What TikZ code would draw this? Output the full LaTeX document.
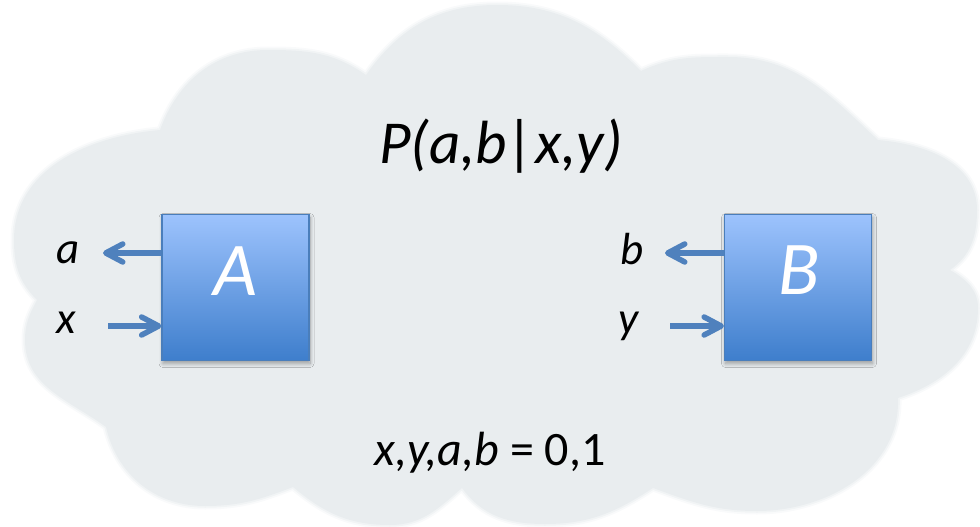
\documentclass[tikz,border=0pt]{standalone}
\usepackage{fontspec}
\setmainfont{Carlito}
\usetikzlibrary{arrows.meta,shadows.blur}

\definecolor{cloudgray}{HTML}{E9EDEF}
\definecolor{sigblue}{HTML}{4F81BD}
\definecolor{boxtop}{HTML}{9DC3FD}
\definecolor{boxbottom}{HTML}{3E7ECC}
\definecolor{boxedge}{HTML}{4A7EBB}

\begin{document}
\begin{tikzpicture}[x=1pt,y=1pt,
  party/.style={draw=boxedge, line width=1.2pt,
    top color=boxtop, bottom color=boxbottom,
    minimum width=147pt, minimum height=146pt, inner sep=0pt,
    blur shadow={shadow xshift=1pt, shadow yshift=-3pt,
      shadow opacity=35, shadow blur radius=4pt, shadow blur steps=8}},
  partname/.style={text=white, font=\fontsize{76}{76}\selectfont\itshape,
    inner sep=0pt, anchor=base},
  varlabel/.style={font=\fontsize{45}{45}\selectfont\itshape,
    inner sep=0pt, anchor=base},
  sigline/.style={draw=sigblue, line width=5.5pt,
    -{Straight Barb[length=17pt,width=18pt,round]}},
]
\useasboundingbox (0,0) rectangle (980,-527);

% the cloud, with a slightly softened rim
\path[fill=cloudgray, line join=round,
  preaction={draw=cloudgray, line width=7pt, opacity=.25, line join=round},
  preaction={draw=cloudgray, line width=3.5pt, opacity=.5, line join=round}]
  (160,-130) to[out=70,in=180] (268,-50) to[out=0,in=145] (366,-75)
  to[out=55,in=180] (497,-5) to[out=0,in=135] (641,-71)
  to[out=25,in=180] (728,-57) to[out=0,in=137] (878,-140)
  to[out=-5,in=90] (977,-210) to[out=-90,in=35] (950,-270)
  to[out=-30,in=90] (978,-308) to[out=-90,in=18] (898,-398)
  to[out=-88,in=0] (757,-511) to[out=180,in=-20] (653,-488)
  to[out=213,in=0] (545,-524) to[out=180,in=-54] (462,-488)
  to[out=221,in=0] (390,-525) to[out=180,in=-40] (293,-487)
  to[out=201,in=0] (205,-506) to[out=180,in=-77] (106,-427)
  to[out=144,in=-90] (25,-340) to[out=90,in=-118] (37,-300)
  to[out=135,in=-90] (14,-240) to[out=90,in=185] (160,-130) -- cycle;

% joint probability and value range
\node[font=\fontsize{61}{61}\selectfont\itshape, inner sep=0pt, anchor=base]
  (joint) at (501,-163) {P(a,b|x,y)};
\node[font=\fontsize{48}{48}\selectfont, inner sep=0pt, anchor=base]
  (range) at (490,-465) {\itshape x,y,a,b\upshape{} = 0,1};

% the two parties
\node[party] (A) at (235.5,-287.5) {};
\node[party] (B) at (798,-287.5) {};
\node[partname] (Aname) at (235,-295) {A};
\node[partname] (Bname) at (799,-294) {B};

% inputs and outputs
\node[varlabel] (la) at (68,-263) {a};
\node[varlabel] (lx) at (66,-333) {x};
\node[varlabel] (lb) at (632,-264) {b};
\node[varlabel] (ly) at (629,-333) {y};

\coordinate (aend) at (103,-253);
\coordinate (xstart) at (108,-326);
\coordinate (bend) at (665,-253);
\coordinate (ystart) at (670,-326);

\draw[sigline] (A.west |- aend) -- (aend);
\draw[sigline] (xstart) -- (A.west |- xstart);
\draw[sigline] (B.west |- bend) -- (bend);
\draw[sigline] (ystart) -- (B.west |- ystart);
\end{tikzpicture}
\end{document}
